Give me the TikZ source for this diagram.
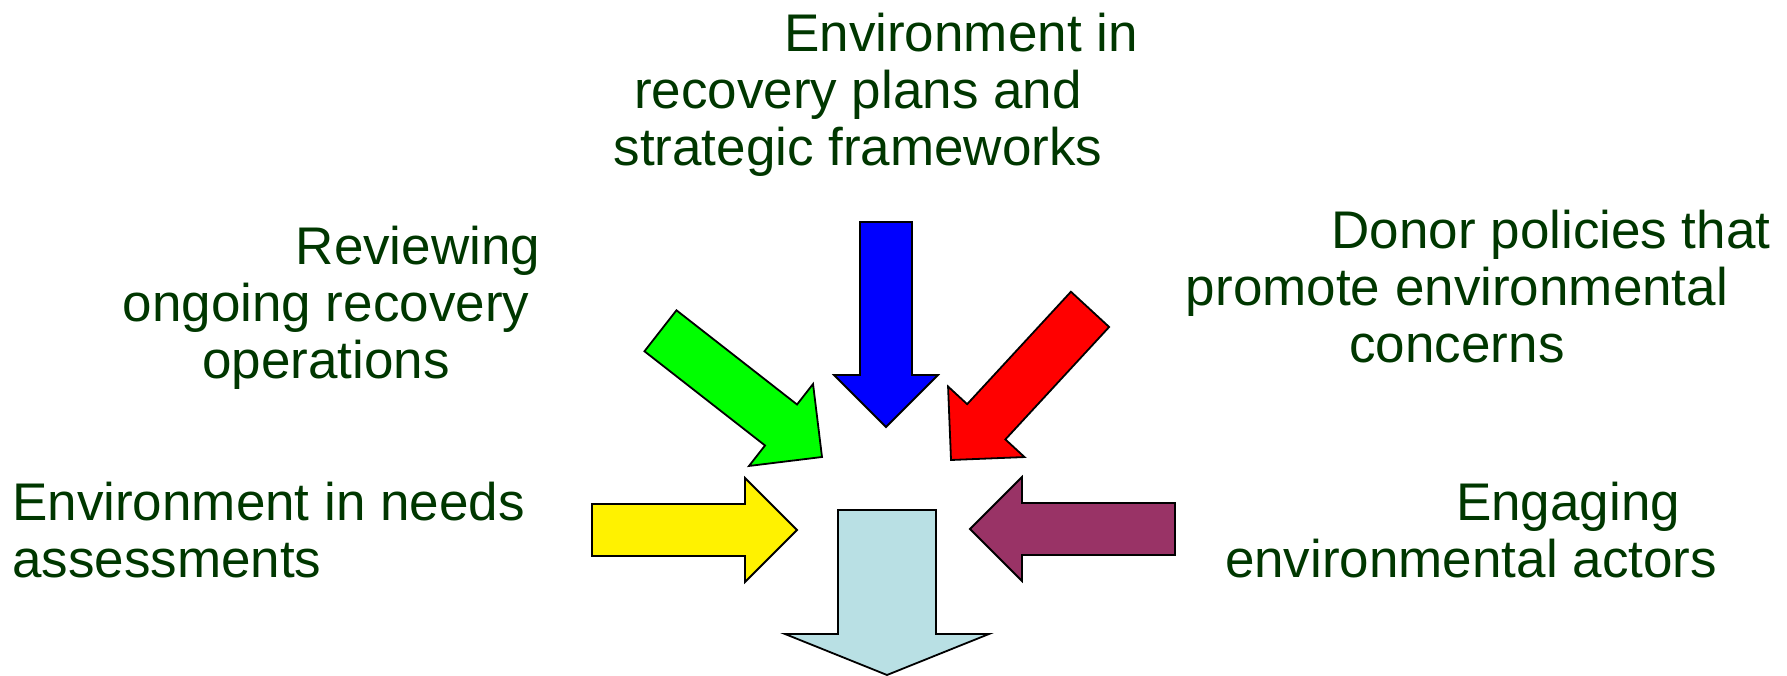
\documentclass[tikz,border=0pt]{standalone}
\usepackage{fontspec}
\setmainfont{Liberation Sans}
\usepackage{tikz}

\definecolor{labelgreen}{RGB}{0,55,0}
\definecolor{plumarrow}{RGB}{153,51,102}
\definecolor{paleblue}{RGB}{185,224,228}

\tikzset{
  blockarrow/.style={draw=black, line width=1.8pt, line join=miter},
  caption/.style={text=labelgreen, inner sep=0pt, font=\fontsize{53}{57}\selectfont}
}

\begin{document}
\begin{tikzpicture}[x=1pt,y=1pt]
    \useasboundingbox (0,0) rectangle (1787,675);
    % arrows coming in
    \draw[blockarrow, fill=blue, shift={(886,248)}, rotate=-90]
(0,0) -- (-52,52) -- (-52,26) -- (-205,26) --
(-205,-26) -- (-52,-26) -- (-52,-52) -- cycle;
    \draw[blockarrow, fill=green, shift={(822,218)}, rotate=-38]
(0,0) -- (-52,52) -- (-52,26) -- (-205,26) --
(-205,-26) -- (-52,-26) -- (-52,-52) -- cycle;
    \draw[blockarrow, fill=red, shift={(951,215)}, rotate=-132.7]
(0,0) -- (-52,52) -- (-52,26) -- (-205,26) --
(-205,-26) -- (-52,-26) -- (-52,-52) -- cycle;
    \draw[blockarrow, fill=yellow, shift={(797,145)}]
(0,0) -- (-52,52) -- (-52,26) -- (-205,26) --
(-205,-26) -- (-52,-26) -- (-52,-52) -- cycle;
    \draw[blockarrow, fill=plumarrow, shift={(970,146)}, rotate=180]
(0,0) -- (-52,52) -- (-52,26) -- (-205,26) --
(-205,-26) -- (-52,-26) -- (-52,-52) -- cycle;
    % arrow going out
    \draw[blockarrow, fill=paleblue, shift={(887,0)}, rotate=-90]
(0,0) -- (-41,102) -- (-41,49) -- (-165,49) --
(-165,-49) -- (-41,-49) -- (-41,-102) -- cycle;
    % labels
    \node[caption, anchor=north, align=center] (plans) at (858,662)
{\hspace*{206pt}Environment in\\recovery plans and\\strategic frameworks};
    \node[caption, anchor=north, align=center] (review) at (326,449)
{\hspace*{184pt}Reviewing\\ongoing recovery\\operations};
    \node[caption, anchor=north, align=center] (donor) at (1457,465)
{\hspace*{188pt}Donor policies that\\promote environmental\\concerns};
    \node[caption, anchor=north west, align=left] (needs) at (12,193)
{Environment in needs\\assessments};
    \node[caption, anchor=north, align=center] (actors) at (1471,193)
{\hspace*{194pt}Engaging\\environmental actors};
\end{tikzpicture}
\end{document}
